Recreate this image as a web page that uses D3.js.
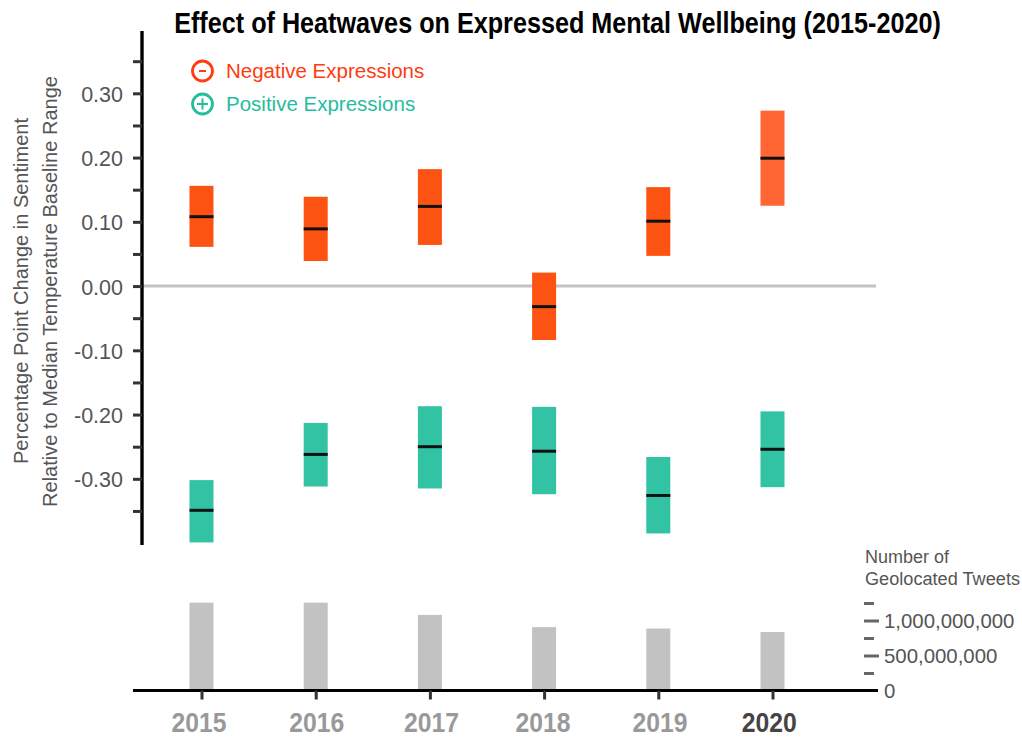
<!DOCTYPE html>
<html><head><meta charset="utf-8">
<script src="https://cdn.jsdelivr.net/npm/d3@7"></script>
<style>html,body{margin:0;padding:0;background:#fff}svg{display:block}</style>
</head><body><svg id="c" width="1022" height="738"></svg>
<script>
const years = [2015,2016,2017,2018,2019,2020];
const negHigh = [0.156,0.139,0.182,0.021,0.154,0.273];
const negMid  = [0.108,0.089,0.124,-0.032,0.101,0.199];
const negLow  = [0.061,0.039,0.064,-0.084,0.047,0.125];
const posHigh = [-0.302,-0.213,-0.187,-0.188,-0.266,-0.195];
const posMid  = [-0.349,-0.262,-0.250,-0.257,-0.326,-0.254];
const posLow  = [-0.399,-0.312,-0.315,-0.324,-0.385,-0.313];
const tweets  = [1255000000,1255000000,1080000000,905000000,885000000,835000000];
const negColors = ["#fd5312","#fd5312","#fd5312","#fd5312","#fd5312","#ff6633"];
const posColor = "#32c3a5";
const yTicks = [-0.35,-0.30,-0.25,-0.20,-0.15,-0.10,-0.05,0,0.05,0.10,0.15,0.20,0.25,0.30,0.35];
const tweetTicks = [0,250000000,500000000,750000000,1000000000,1250000000];
const yTitle = ["Percentage Point Change in Sentiment","Relative to Median Temperature Baseline Range"];
const sans = "'Liberation Sans',Arial,sans-serif";

const svg = d3.select("#c");
const x = d3.scaleLinear().domain([2015,2020]).range([201.5,772.5]);
const y = d3.scaleLinear().domain([-0.403,0.397]).range([545,31]);
const yT = d3.scaleLinear().domain([0,1000000000]).range([690.5,620.5]);
const w = 24;

// zero line
svg.append("line").attr("x1",142).attr("x2",876).attr("y1",y(0)).attr("y2",y(0))
  .attr("stroke","#c2c2c2").attr("stroke-width",3);

// y axis
const yAxis = svg.append("g").attr("transform","translate(142,0)")
  .call(d3.axisLeft(y).tickValues(yTicks).tickSize(9).tickPadding(10)
    .tickFormat(d => Math.round(d*100)%10===0 ? d3.format(".2f")(d).replace("\u2212","-") : ""));
yAxis.select(".domain").attr("stroke","#000").attr("stroke-width",3.4).attr("d","M0,31V545");
yAxis.selectAll(".tick line").attr("stroke","#333").attr("stroke-width",3);
yAxis.selectAll(".tick text").attr("fill","#555").attr("font-family",sans).attr("font-size",21.5).attr("dy","0.37em");

// y title
const tt = svg.append("g");
yTitle.forEach((s,i)=>tt.append("text")
  .attr("transform","translate("+(i===0?28:57)+","+(i===0?291:291.5)+") rotate(-90)")
  .attr("text-anchor","middle").attr("fill","#555").attr("font-family",sans).attr("font-size",21)
  .attr("textLength",i===0?346:431).attr("lengthAdjust","spacingAndGlyphs").text(s));

// range bars
function ranges(hi,lo,mid,colorOf){
  svg.append("g").selectAll("rect").data(years).join("rect")
    .attr("x",d=>x(d)-w/2).attr("width",w)
    .attr("y",(d,i)=>y(hi[i])).attr("height",(d,i)=>y(lo[i])-y(hi[i]))
    .attr("fill",(d,i)=>colorOf(i));
  svg.append("g").selectAll("line").data(years).join("line")
    .attr("x1",d=>x(d)-w/2).attr("x2",d=>x(d)+w/2)
    .attr("y1",(d,i)=>y(mid[i])).attr("y2",(d,i)=>y(mid[i]))
    .attr("stroke","#111").attr("stroke-width",3);
}
ranges(negHigh,negLow,negMid,i=>negColors[i]);
ranges(posHigh,posLow,posMid,()=>posColor);

// tweet bars
svg.append("g").selectAll("rect").data(years).join("rect")
  .attr("x",d=>x(d)-w/2).attr("width",w)
  .attr("y",(d,i)=>yT(tweets[i])).attr("height",(d,i)=>yT(0)-yT(tweets[i]))
  .attr("fill","#c2c2c2");

// x axis (the reference's year labels sit slightly off their ticks)
const labelNudge = [-3,0.5,1,-1.5,1.2,-3.7];
const xAxis = svg.append("g").attr("transform","translate(0,690.5)")
  .call(d3.axisBottom(x).tickValues(years).tickFormat(d3.format("d")).tickSize(9).tickPadding(9));
xAxis.select(".domain").attr("stroke","#000").attr("stroke-width",3).attr("d","M133,0H878");
xAxis.selectAll(".tick line").attr("stroke","#333").attr("stroke-width",3);
xAxis.selectAll(".tick text").attr("font-family",sans).attr("font-weight","bold").attr("font-size",28)
  .attr("textLength",55).attr("lengthAdjust","spacingAndGlyphs")
  .attr("x",(d,i)=>labelNudge[i]).attr("y",null).attr("dy",null).attr("transform","translate(0,41.3)")
  .attr("fill",d=>d===2020?"#444":"#999");

// tweet axis
const tAxis = svg.append("g").attr("transform","translate(864,0)")
  .call(d3.axisRight(yT).tickValues(tweetTicks).tickSize(0).tickPadding(20)
    .tickFormat(d => d%500000000===0 ? d3.format(",")(d) : ""));
tAxis.select(".domain").remove();
tAxis.selectAll(".tick line").attr("stroke","#666").attr("stroke-width",3)
  .attr("x2",d=> d===0 ? 0 : (d%500000000===0?15:10));
tAxis.selectAll(".tick text").attr("fill","#555").attr("font-family",sans).attr("font-size",20.4);

svg.append("text").attr("x",865).attr("y",563).attr("fill","#555").attr("font-family",sans).attr("font-size",18)
  .attr("textLength",84).attr("lengthAdjust","spacingAndGlyphs").text("Number of");
svg.append("text").attr("x",865).attr("y",585).attr("fill","#555").attr("font-family",sans).attr("font-size",18)
  .attr("textLength",155).attr("lengthAdjust","spacingAndGlyphs").text("Geolocated Tweets");

// legend
const legend = [
  {label:"Negative Expressions",plus:false,color:"#ff3b0f",cy:71},
  {label:"Positive Expressions",plus:true,color:"#25bd9d",cy:104}
];
const lg = svg.append("g").selectAll("g").data(legend).join("g");
lg.append("circle").attr("cx",202.5).attr("cy",d=>d.cy).attr("r",10).attr("fill","none")
  .attr("stroke",d=>d.color).attr("stroke-width",2.8);
lg.append("path").attr("fill","none").attr("stroke",d=>d.color).attr("stroke-width",2)
  .attr("d",d=>`M${202.5-(d.plus?5.5:3.5)},${d.cy}h${d.plus?11:7}`+(d.plus?`M202.5,${d.cy-5.5}v11`:""));
lg.append("text").attr("x",226).attr("y",d=>d.cy+7)
  .attr("fill",d=>d.color).attr("font-family",sans).attr("font-size",20.5).text(d=>d.label);

// title
svg.append("text").attr("transform","translate(557.5,33) scale(0.869,1)").attr("text-anchor","middle")
  .attr("font-family",sans).attr("font-weight","bold").attr("font-size",29).attr("fill","#000")
  .text("Effect of Heatwaves on Expressed Mental Wellbeing (2015-2020)");
</script></body></html>
